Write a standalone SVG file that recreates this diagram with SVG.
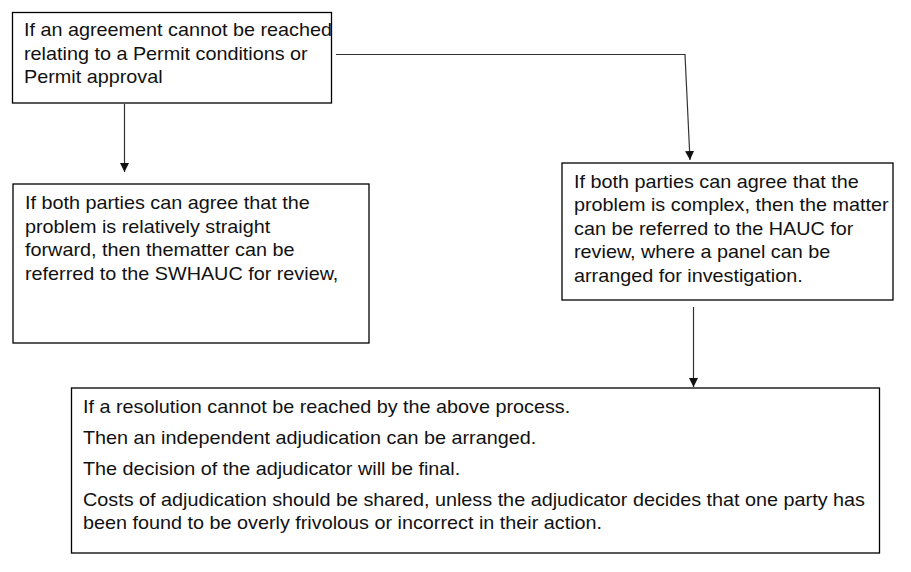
<svg xmlns="http://www.w3.org/2000/svg" width="911" height="572" viewBox="0 0 911 572">
<defs>
<style>
.box{fill:#fff;stroke:#000;stroke-width:1.3}
.t{font-family:"Liberation Sans",Arial,sans-serif;font-size:18px;fill:#111}
.c{fill:none;stroke:#333;stroke-width:1.2}
</style>
<marker id="ah" markerWidth="10" markerHeight="10" refX="9" refY="4.5" orient="auto" markerUnits="userSpaceOnUse">
<path d="M0,0 L9,4.5 L0,9 Z" fill="#111"/>
</marker>
</defs>
<rect width="911" height="572" fill="#fff"/>
<g id="connectors">
<line class="c" x1="124.5" y1="104" x2="124.5" y2="172" marker-end="url(#ah)"/>
<polyline class="c" points="336,54.5 685,54.5 690,160" marker-end="url(#ah)"/>
<line class="c" x1="693.5" y1="307" x2="693.5" y2="387" marker-end="url(#ah)"/>
</g>
<g id="node-start">
<rect class="box" x="12.5" y="12.5" width="319" height="90.5"/>
<g transform="translate(24,0) scale(1.1,1)" class="t">
<text x="0" y="36">If an agreement cannot be reached</text>
<text x="0" y="60">relating to a Permit conditions or</text>
<text x="0" y="83">Permit approval</text>
</g>
</g>
<g id="node-swhauc">
<rect class="box" x="13" y="184" width="356" height="159"/>
<g transform="translate(25,0) scale(1.1,1)" class="t">
<text x="0" y="209">If both parties can agree that the</text>
<text x="0" y="233">problem is relatively straight</text>
<text x="0" y="256">forward, then thematter can be</text>
<text x="0" y="280">referred to the SWHAUC for review,</text>
</g>
</g>
<g id="node-hauc">
<rect class="box" x="562" y="163" width="331" height="137"/>
<g transform="translate(574,0) scale(1.1,1)" class="t">
<text x="0" y="188">If both parties can agree that the</text>
<text x="0" y="211.5">problem is complex, then the matter</text>
<text x="0" y="235">can be referred to the HAUC for</text>
<text x="0" y="258.5">review, where a panel can be</text>
<text x="0" y="282">arranged for investigation.</text>
</g>
</g>
<g id="node-adjudication">
<rect class="box" x="71.5" y="388" width="808" height="165"/>
<g transform="translate(83,0) scale(1.1,1)" class="t">
<text x="0" y="413">If a resolution cannot be reached by the above process.</text>
<text x="0" y="444">Then an independent adjudication can be arranged.</text>
<text x="0" y="475">The decision of the adjudicator will be final.</text>
<text x="0" y="506">Costs of adjudication should be shared, unless the adjudicator decides that one party has</text>
<text x="0" y="529">been found to be overly frivolous or incorrect in their action.</text>
</g>
</g>
</svg>
